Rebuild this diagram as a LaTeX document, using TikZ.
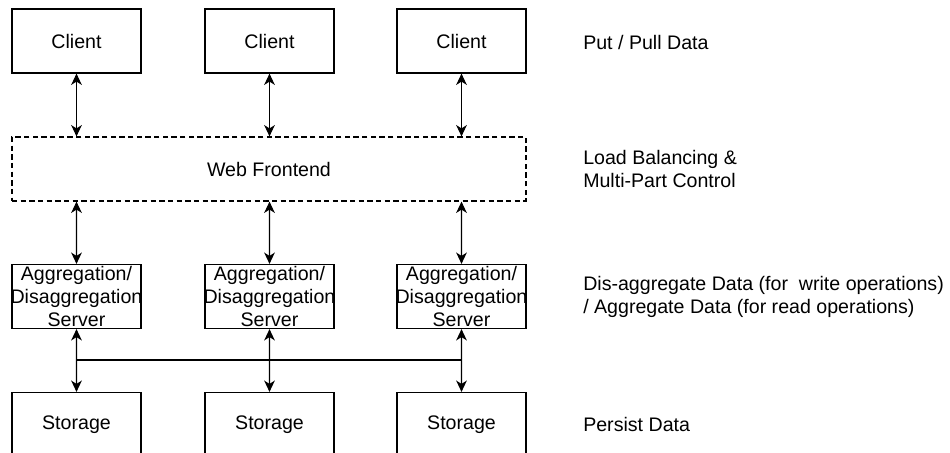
\documentclass[tikz,border=0pt]{standalone}
\usepackage{fontspec}
\setmainfont{Liberation Sans}
\usetikzlibrary{arrows.meta}

\begin{document}
\begin{tikzpicture}[x=0.75pt,y=-0.75pt,
    box/.style={draw,line width=0.9pt,minimum width=96.75pt,minimum height=48pt,inner xsep=-4pt,inner ysep=0pt,align=center,font=\fontsize{14.7}{17.25}\selectfont},
    note/.style={anchor=west,align=left,inner sep=0pt,font=\fontsize{14.7}{17.25}\selectfont},
    link/.style={{Stealth[length=8.5pt,width=8pt,inset=2.5pt]}-{Stealth[length=8.5pt,width=8pt,inset=2.5pt]},line width=0.9pt}]
      \useasboundingbox (0,0) rectangle (950,453);
      \clip (0,0) rectangle (950,453);
      % three columns
      \foreach \i/\x in {1/76.5,2/269.5,3/461.5}{
        \node[box] (c\i) at (\x,41) {Client};
        \node[box] (a\i) at (\x,296.5) {Aggregation/\\Disaggregation\\Server};
        \node[box] (s\i) at (\x,424.5) {Storage};
      }
      \node[box,dash pattern=on 4pt off 2.5pt,minimum width=385.5pt] (fe) at (269,169) {Web Frontend};
      \foreach \i in {1,2,3}{
        \draw[link] (c\i) -- (c\i |- fe.north);
        \draw[link] (a\i |- fe.south) -- (a\i);
        \draw[link] (a\i) -- (s\i);
      }
      \coordinate (bus) at (0,360);
      \draw[line width=0.9pt] (a1 |- bus) -- (a3 |- bus);
      % descriptions
      \node[note] (n1) at (583,42) {Put / Pull Data};
      \node[note] (n2) at (583,169) {Load Balancing \&\\Multi-Part Control};
      \node[note] (n3) at (583,297) {Dis-aggregate Data (for~ write operations)\\/ Aggregate Data (for read operations)};
      \node[note] (n4) at (583,424) {Persist Data};
    \end{tikzpicture}
\end{document}
